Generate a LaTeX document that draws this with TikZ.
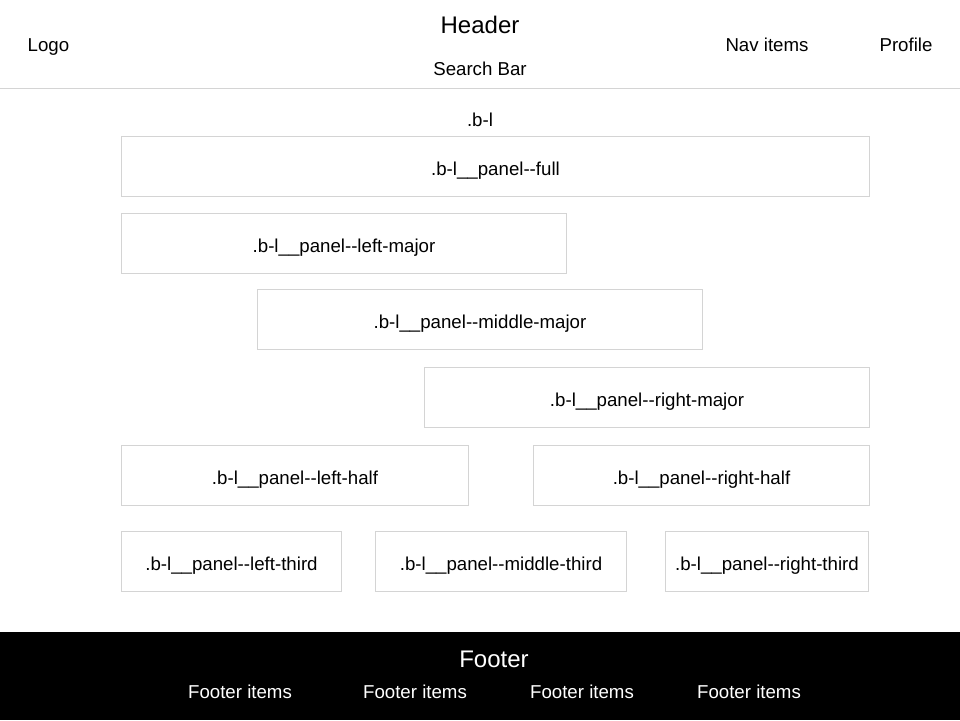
\documentclass[tikz,border=0pt]{standalone}
\usepackage{fontspec}
\setmainfont{Liberation Sans}
\definecolor{boxline}{HTML}{D4D4D4}
\newcommand{\dd}{-{}-}
\begin{document}
\begin{tikzpicture}[x=1pt,y=-1pt,
  panel/.style={draw=boxline,line width=1pt,inner sep=0pt,anchor=north west,minimum height=60pt},
  lbl/.style={font=\fontsize{18.67}{22}\selectfont,inner sep=0pt,text height=13.4pt,text depth=0pt},
  big/.style={font=\fontsize{24}{28}\selectfont,inner sep=0pt,text height=17.2pt,text depth=0pt}]
\useasboundingbox (0,0) rectangle (960,720);
% header
\coordinate (hl) at (0,88.5);
\coordinate (hr) at (960,88.5);
\draw[boxline,line width=1pt] (hl) -- (hr);
\node[big] (header) at (480,24.5) {Header};
\node[lbl] (logo) at (48.5,45) {Logo};
\node[lbl] (search) at (480,68.5) {Search Bar};
\node[lbl] (nav) at (767,45) {Nav items};
\node[lbl] (profile) at (906,45) {Profile};
\node[lbl] (bl) at (480,119.3) {.b-l};
% panels
\node[panel,minimum width=748pt] (full) at (121,136) {};
\node[lbl] at ([yshift=-2pt]full.center) {.b-l\_\_panel\dd full};
\node[panel,minimum width=445pt] (lmaj) at (121,213) {};
\node[lbl] at ([yshift=-2pt]lmaj.center) {.b-l\_\_panel\dd left-major};
\node[panel,minimum width=445pt] (mmaj) at (257,289) {};
\node[lbl] at ([yshift=-2pt]mmaj.center) {.b-l\_\_panel\dd middle-major};
\node[panel,minimum width=445pt] (rmaj) at (424,367) {};
\node[lbl] at ([yshift=-2pt]rmaj.center) {.b-l\_\_panel\dd right-major};
\node[panel,minimum width=347pt] (lhalf) at (121,445) {};
\node[lbl] at ([yshift=-2pt]lhalf.center) {.b-l\_\_panel\dd left-half};
\node[panel,minimum width=336pt] (rhalf) at (533,445) {};
\node[lbl] at ([yshift=-2pt]rhalf.center) {.b-l\_\_panel\dd right-half};
\node[panel,minimum width=220pt] (lthird) at (121,531) {};
\node[lbl] at ([yshift=-2pt]lthird.center) {.b-l\_\_panel\dd left-third};
\node[panel,minimum width=251pt] (mthird) at (375,531) {};
\node[lbl] at ([yshift=-2pt]mthird.center) {.b-l\_\_panel\dd middle-third};
\node[panel,minimum width=203pt] (rthird) at (665,531) {};
\node[lbl] at ([yshift=-2pt]rthird.center) {.b-l\_\_panel\dd right-third};
% footer
\fill[black] (0,632) rectangle (960,720);
\node[big,text=white] (footer) at (494,658.5) {Footer};
\node[lbl,text=white] (f1) at (240,691.3) {Footer items};
\node[lbl,text=white] (f2) at (415,691.3) {Footer items};
\node[lbl,text=white] (f3) at (582,691.3) {Footer items};
\node[lbl,text=white] (f4) at (749,691.3) {Footer items};
\end{tikzpicture}
\end{document}
